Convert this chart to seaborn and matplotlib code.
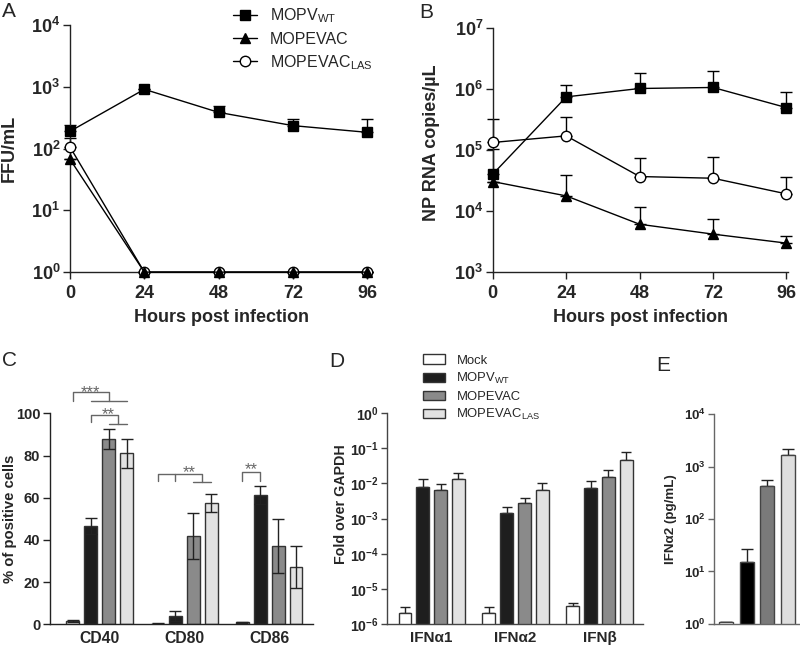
import numpy as np
import pandas as pd
import matplotlib
matplotlib.use("Agg")
import matplotlib.pyplot as plt
from matplotlib.lines import Line2D
from matplotlib.patches import Patch
from matplotlib.ticker import FuncFormatter, NullLocator, FixedLocator
import seaborn as sns

# ---------------- data ----------------
hours = [0, 24, 48, 72, 96]
series_labels = [r"MOPV$_{\mathrm{WT}}$", "MOPEVAC", r"MOPEVAC$_{\mathrm{LAS}}$"]

# Panel A: FFU/mL (mean, upper error)
a_wt = [190, 910, 385, 235, 183]
a_wt_err = [50, 0, 95, 65, 114]
a_evac = [67, 1, 1, 1, 1]
a_evac_err = [0, 0, 0, 0, 0]
a_las = [106, 1, 1, 1, 1]
a_las_err = [45, 0, 0, 0, 0]

# Panel B: NP RNA copies/uL
b_wt = [40500, 750000, 1030000, 1070000, 500000]
b_wt_err = [64500, 440000, 840000, 900000, 410000]
b_evac = [30600, 17800, 6100, 4200, 2990]
b_evac_err = [0, 20700, 5500, 3300, 990]
b_las = [134000, 172000, 37000, 34700, 19200]
b_las_err = [188000, 183000, 37000, 41300, 17800]

# Panel C: % of positive cells
c_markers = ["CD40", "CD80", "CD86"]
groups = ["Mock", "MOPV_WT", "MOPEVAC", "MOPEVAC_LAS"]
group_labels = ["Mock", r"MOPV$_{\mathrm{WT}}$", "MOPEVAC", r"MOPEVAC$_{\mathrm{LAS}}$"]
c_mock = [1.5, 0.3, 1.0]
c_mock_err = [0.4, 0.1, 0.3]
c_wt = [46.7, 4.0, 61.3]
c_wt_err = [3.8, 2.2, 4.2]
c_evac = [88.0, 42.0, 37.0]
c_evac_err = [4.7, 10.8, 12.8]
c_las = [81.0, 57.5, 27.3]
c_las_err = [7.0, 4.3, 10.0]

# Panel D: Fold over GAPDH
d_genes = ["IFNα1", "IFNα2", "IFNβ"]
d_mock = [2.14e-6, 2.14e-6, 3.3e-6]
d_mock_err = [1.0e-6, 1.0e-6, 0.8e-6]
d_wt = [7.9e-3, 1.47e-3, 7.5e-3]
d_wt_err = [5.3e-3, 0.7e-3, 4.0e-3]
d_evac = [6.4e-3, 2.7e-3, 1.54e-2]
d_evac_err = [3.1e-3, 1.2e-3, 0.86e-2]
d_las = [1.32e-2, 6.4e-3, 4.6e-2]
d_las_err = [0.58e-2, 4.0e-3, 2.9e-2]

# Panel E: IFNa2 pg/mL
e_vals = [1.09, 15.2, 420, 1650]
e_err = [0, 12, 125, 500]

bar_colors = ["#ffffff", "#1e1e1e", "#8a8a8a", "#e2e2e2"]
e_colors = ["#ffffff", "#000000", "#7a7a7a", "#dedede"]

# ---------------- style ----------------
sns.set_theme(style="ticks")
plt.rcParams["font.family"] = ["Liberation Sans", "DejaVu Sans"]
plt.rcParams["mathtext.fontset"] = "custom"
plt.rcParams["mathtext.rm"] = "Liberation Sans"
plt.rcParams["mathtext.bf"] = "Liberation Sans:bold"
plt.rcParams["mathtext.it"] = "Liberation Sans:italic"
plt.rcParams["axes.linewidth"] = 1.0
plt.rcParams["axes.edgecolor"] = "#222222"

fig = plt.figure(figsize=(8, 6.51), dpi=100)
axA = fig.add_axes([0.0875, 0.582, 0.3775, 0.3796])
axB = fig.add_axes([0.616, 0.582, 0.369, 0.3745])
axC = fig.add_axes([0.0625, 0.041, 0.3288, 0.324])
axD = fig.add_axes([0.484, 0.041, 0.320, 0.325])
axE = fig.add_axes([0.8925, 0.0415, 0.1075, 0.3225])

def pow_fmt(v, pos):
    if v <= 0:
        return ""
    e = int(round(np.log10(v)))
    return r"$\mathbf{10^{%d}}$" % e

def style_axis(ax, fs, ticklen=5, xpad=4, color="#222222"):
    sns.despine(ax=ax)
    for s in ("left", "bottom"):
        ax.spines[s].set_color(color)
    ax.tick_params(axis="both", direction="out", length=ticklen, width=1.0,
                   labelsize=fs, pad=2, color=color)
    ax.tick_params(axis="x", pad=xpad)
    for lab in ax.get_xticklabels() + ax.get_yticklabels():
        lab.set_fontweight("bold")

# ---------------- panels A & B ----------------
def line_panel(ax, yvals, yerrs, ms, cap):
    specs = [("s", "black"), ("^", "black"), ("o", "white")]
    order = [2, 0, 1]  # draw LAS first so triangles show inside circles
    for i in order:
        ax.errorbar(hours, yvals[i], yerr=[np.zeros(len(hours)), yerrs[i]],
                    fmt="none", ecolor="black", elinewidth=1, capsize=cap,
                    capthick=1, clip_on=False, zorder=1.5)
        m, fc = specs[i]
        sns.lineplot(x=hours, y=yvals[i], ax=ax, color="black", marker=m,
                     markersize=ms if m != "^" else ms * 1.05,
                     markerfacecolor=fc, markeredgecolor="black",
                     markeredgewidth=1, linewidth=1, clip_on=False,
                     legend=False, zorder=3)
    ax.set_yscale("log")
    ax.set_xticks(hours)
    ax.yaxis.set_minor_locator(NullLocator())
    ax.yaxis.set_major_formatter(FuncFormatter(pow_fmt))
    ax.set_xlabel("Hours post infection", fontsize=13, fontweight="bold", labelpad=5)

line_panel(axA, [a_wt, a_evac, a_las], [a_wt_err, a_evac_err, a_las_err], 7.5, 4.5)
axA.set_xlim(0, 97.5)
axA.set_ylim(1, 1e4)
axA.yaxis.set_major_locator(FixedLocator([1, 10, 100, 1000, 10000]))
axA.set_ylabel("FFU/mL", fontsize=13, fontweight="bold")
axA.yaxis.set_label_coords(-0.172, 0.5)
style_axis(axA, 13)

line_panel(axB, [b_wt, b_evac, b_las], [b_wt_err, b_evac_err, b_las_err], 7.5, 4.3)
axB.set_xlim(0, 96.5)
axB.set_ylim(1e3, 1e7)
axB.yaxis.set_major_locator(FixedLocator([1e3, 1e4, 1e5, 1e6, 1e7]))
axB.set_ylabel("NP RNA copies/µL", fontsize=13, fontweight="bold")
axB.yaxis.set_label_coords(-0.18, 0.53)
style_axis(axB, 13)

handles = [
    Line2D([0], [0], color="black", lw=1, marker="s", ms=7.5, mfc="black", mec="black"),
    Line2D([0], [0], color="black", lw=1, marker="^", ms=7.5, mfc="black", mec="black"),
    Line2D([0], [0], color="black", lw=1, marker="o", ms=7.5, mfc="white", mec="black"),
]
fig.legend(handles, series_labels, loc="upper left", bbox_to_anchor=(0.291, 0.99),
           frameon=False, fontsize=11.5, handlelength=1.5, handletextpad=0.8,
           labelspacing=0.4, borderpad=0, borderaxespad=0)

# ---------------- bar panels ----------------
BW = 0.85
GAP = 0.28

def bar_panel(ax, cats, vals, errs, symmetric, cap):
    rows = []
    for gi, g in enumerate(groups):
        for ci, c in enumerate(cats):
            rows.append({"cat": c, "group": g, "value": vals[gi][ci]})
    df = pd.DataFrame(rows)
    sns.barplot(data=df, x="cat", y="value", hue="group", order=cats,
                hue_order=groups, palette=bar_colors, width=BW, gap=GAP,
                edgecolor="#333333", linewidth=1, errorbar=None, legend=False,
                ax=ax, zorder=2)
    slot = BW / len(groups)
    for gi in range(len(groups)):
        xs = np.arange(len(cats)) + (gi - 1.5) * slot
        if symmetric:
            ye = errs[gi]
        else:
            ye = [np.zeros(len(cats)), errs[gi]]
        ax.errorbar(xs, vals[gi], yerr=ye, fmt="none", ecolor="#222222",
                    elinewidth=1, capsize=cap, capthick=1,
                    zorder=1.5 if not symmetric else 3)
    ax.set_xlabel("")

# Panel C
bar_panel(axC, c_markers, [c_mock, c_wt, c_evac, c_las],
          [c_mock_err, c_wt_err, c_evac_err, c_las_err], True, 4.5)
axC.set_xlim(-0.59, 2.52)
axC.set_ylim(0, 100)
axC.set_yticks([0, 20, 40, 60, 80, 100])
axC.set_ylabel("% of positive cells", fontsize=10.7, fontweight="bold")
axC.yaxis.set_label_coords(-0.125, 0.5)
style_axis(axC, 10.5, ticklen=5, xpad=5)
axC.tick_params(axis="x", length=0, labelsize=11.3)

slot = BW / 4
def bx(cat, g):
    return cat + (g - 1.5) * slot

br = dict(color="#666666", lw=1, clip_on=False)
sfs = 12
scol = "#666666"
# CD40 ***
x0, x1 = bx(0, 0), bx(0, 2)
axC.plot([x0, x0, x1, x1], [106, 110, 110, 106], **br)
axC.plot([bx(0, 1), bx(0, 3)], [106, 106], **br)
axC.text((x0 + x1) / 2, 107.6, "***", ha="center", va="baseline", fontsize=sfs, color=scol)
# CD40 **
x0, x1 = bx(0, 1), (bx(0, 2) + bx(0, 3)) / 2
axC.plot([x0, x0, x1, x1], [96, 99, 99, 94.8], **br)
axC.plot([bx(0, 2), bx(0, 3)], [94.8, 94.8], **br)
axC.text((x0 + x1) / 2 + 0.04, 97.4, "**", ha="center", va="baseline", fontsize=sfs, color=scol)
# CD80 **
x0, x1 = bx(1, 0), (bx(1, 2) + bx(1, 3)) / 2
axC.plot([x0, x0, x1, x1], [68, 71.2, 71.2, 67.6], **br)
axC.plot([bx(1, 1), bx(1, 1)], [71.2, 68], **br)
axC.plot([bx(1, 2), bx(1, 3)], [67.6, 67.6], **br)
axC.text((bx(1, 1) + x1) / 2, 70.0, "**", ha="center", va="baseline", fontsize=sfs, color=scol)
# CD86 **
x0, x1 = bx(2, 0), bx(2, 1)
axC.plot([x0, x0, x1, x1], [68, 72, 72, 68], **br)
axC.text((x0 + x1) / 2, 71.3, "**", ha="center", va="baseline", fontsize=sfs, color=scol)

# Panel D
bar_panel(axD, d_genes, [d_mock, d_wt, d_evac, d_las],
          [d_mock_err, d_wt_err, d_evac_err, d_las_err], False, 3.3)
axD.set_yscale("log")
axD.set_xlim(-0.53, 2.52)
axD.set_ylim(1e-6, 1)
axD.yaxis.set_major_locator(FixedLocator([1e-6, 1e-5, 1e-4, 1e-3, 1e-2, 1e-1, 1]))
axD.yaxis.set_minor_locator(NullLocator())
axD.yaxis.set_major_formatter(FuncFormatter(pow_fmt))
axD.set_ylabel("Fold over GAPDH", fontsize=10.3, fontweight="bold")
axD.yaxis.set_label_coords(-0.152, 0.57)
style_axis(axD, 10.2, ticklen=4, xpad=5, color="#444444")
axD.tick_params(axis="x", length=0, labelsize=11)

leg_handles = [Patch(facecolor=c, edgecolor="#333333", linewidth=1) for c in bar_colors]
fig.legend(leg_handles, group_labels, loc="upper left", bbox_to_anchor=(0.529, 0.4556),
           frameon=False, fontsize=9.4, handlelength=1.7, handleheight=0.7,
           handletextpad=0.85, labelspacing=0.34, borderpad=0, borderaxespad=0)

# Panel E
e_df = pd.DataFrame({"group": groups, "value": e_vals})
sns.barplot(data=e_df, x="group", y="value", hue="group", order=groups,
            hue_order=groups, palette=e_colors, width=0.68, edgecolor="#444444",
            linewidth=1, errorbar=None, legend=False, ax=axE, zorder=2)
axE.errorbar(np.arange(len(groups)), e_vals, yerr=[np.zeros(len(groups)), e_err],
             fmt="none", ecolor="#222222", elinewidth=1, capsize=4, capthick=1, zorder=1.5)
axE.set_yscale("log")
axE.set_xlim(-0.58, 3.58)
axE.set_ylim(1, 1e4)
axE.yaxis.set_major_locator(FixedLocator([1, 10, 100, 1000, 10000]))
axE.yaxis.set_minor_locator(NullLocator())
axE.yaxis.set_major_formatter(FuncFormatter(pow_fmt))
axE.set_xticks([])
axE.set_xlabel("")
axE.set_ylabel("IFNα2 (pg/mL)", fontsize=9.6, fontweight="bold")
axE.yaxis.set_label_coords(-0.43, 0.5)
style_axis(axE, 9.5, ticklen=4, color="#666666")

# panel letters
for txt, x, y in [("A", 0.002, 0.983), ("B", 0.524, 0.981), ("C", 0.002, 0.447),
                  ("D", 0.412, 0.444), ("E", 0.82, 0.438)]:
    fig.text(x, y, txt, fontsize=15, ha="left", va="center")

fig.savefig("out.png", dpi=100)
